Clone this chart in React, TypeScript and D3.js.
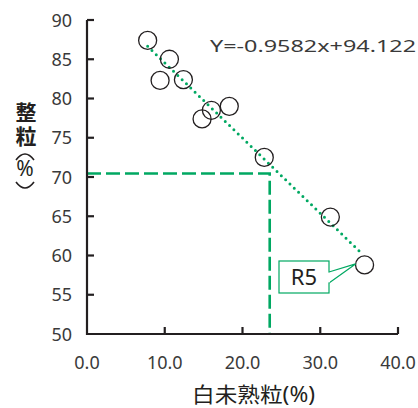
import React, { useEffect, useRef } from 'react';
import * as d3 from 'd3';

// 白未熟粒 (%) vs 整粒 (%)
const whiteImmature = [7.8, 10.6, 9.4, 12.4, 14.8, 16.0, 18.3, 22.8, 31.3, 35.7];
const wholeGrain = [87.4, 85.0, 82.3, 82.4, 77.4, 78.5, 79.0, 72.5, 64.9, 58.8];
const xTicks = [0, 10, 20, 30, 40];
const yTicks = [50, 55, 60, 65, 70, 75, 80, 85, 90];
const slope = -0.9582;
const intercept = 94.122;
const trendRange = [7.8, 35.0];
const refPoint = { x: 23.5, y: 70.45 };
const calloutIndex = 9;
const calloutLabel = 'R5';

const GREEN = '#00a862';
const INK = '#231f20';
const TEXT = '#3a3a3a';
const FONT = '"Noto Sans", "Noto Sans CJK JP", sans-serif';

const App: React.FC = () => {
  const svgRef = useRef<SVGSVGElement>(null);

  useEffect(() => {
    if (!svgRef.current) return;
    const svg = d3.select(svgRef.current);
    svg.selectAll('*').remove();

    const x = d3.scaleLinear().domain([0, 40]).range([87, 398]);
    const y = d3.scaleLinear().domain([50, 90]).range([334, 20]);

    // reference dashed lines
    svg.append('path')
      .attr('d', `M${x(0)},${y(refPoint.y)}H${x(refPoint.x)}V${y(50)}`)
      .attr('fill', 'none')
      .attr('stroke', GREEN)
      .attr('stroke-width', 2.6)
      .attr('stroke-dasharray', '14 5');

    // trend line
    svg.append('line')
      .attr('x1', x(trendRange[0])).attr('y1', y(slope * trendRange[0] + intercept))
      .attr('x2', x(trendRange[1])).attr('y2', y(slope * trendRange[1] + intercept))
      .attr('stroke', GREEN)
      .attr('stroke-width', 3)
      .attr('stroke-linecap', 'round')
      .attr('stroke-dasharray', '0 6');

    // axes
    const axis = svg.append('g').attr('stroke', INK).attr('fill', 'none');
    axis.append('path')
      .attr('d', `M${x(0)},${y(90)}V${y(50)}H${x(40)}`)
      .attr('stroke-width', 2.2);
    axis.selectAll('.yt').data(yTicks.slice(1)).enter().append('line')
      .attr('x1', x(0)).attr('x2', x(0) + 7)
      .attr('y1', d => y(d)).attr('y2', d => y(d))
      .attr('stroke-width', 2.2);
    axis.selectAll('.xt').data(xTicks.slice(1)).enter().append('line')
      .attr('x1', d => x(d)).attr('x2', d => x(d))
      .attr('y1', y(50)).attr('y2', y(50) - 7)
      .attr('stroke-width', 2.2);

    svg.selectAll('.yl').data(yTicks).enter().append('text')
      .attr('x', 72).attr('y', d => y(d) + 6.5)
      .attr('text-anchor', 'end')
      .attr('font-family', FONT).attr('font-size', 18).attr('fill', TEXT)
      .text(d => d);

    svg.selectAll('.xl').data(xTicks).enter().append('text')
      .attr('x', d => x(d)).attr('y', 369)
      .attr('text-anchor', 'middle')
      .attr('font-family', FONT).attr('font-size', 18).attr('fill', TEXT)
      .text(d => d.toFixed(1));

    // axis titles
    svg.append('text')
      .attr('x', 192).attr('y', 402)
      .attr('font-family', FONT).attr('font-size', 21).attr('fill', INK)
      .attr('textLength', 123).attr('lengthAdjust', 'spacingAndGlyphs')
      .text('白未熟粒(%)');

    const yTitle = svg.append('g')
      .attr('font-family', FONT).attr('fill', INK);
    yTitle.append('text')
      .attr('x', 25).attr('y', 102)
      .attr('writing-mode', 'vertical-rl')
      .attr('font-size', 21).attr('font-weight', 'bold')
      .attr('letter-spacing', 3)
      .text('整粒');
    yTitle.append('text').attr('x', 25).attr('y', 176)
      .attr('text-anchor', 'middle')
      .attr('font-size', 21).text('%');
    // vertical parentheses around %
    yTitle.append('path')
      .attr('d', 'M16,160Q25,148 34,160M16,182Q25,194 34,182')
      .attr('fill', 'none').attr('stroke', INK).attr('stroke-width', 1.6);

    // equation
    svg.append('text')
      .attr('x', 210).attr('y', 52)
      .attr('font-family', FONT).attr('font-size', 17).attr('fill', TEXT)
      .attr('textLength', 206).attr('lengthAdjust', 'spacingAndGlyphs')
      .text(`Y=${slope}x+${intercept}`);

    // points
    const pts = d3.zip(whiteImmature, wholeGrain);
    svg.selectAll('.pt').data(pts).enter().append('circle')
      .attr('cx', d => x(d[0])).attr('cy', d => y(d[1]))
      .attr('r', 9)
      .attr('fill', 'none')
      .attr('stroke', INK)
      .attr('stroke-width', 1.3);

    // callout
    const cp = pts[calloutIndex];
    const bx = 279, by = 261, bw = 50, bh = 32;
    const tipX = x(cp[0]) - 9, tipY = y(cp[1]) - 1;
    svg.append('path')
      .attr('d', `M${bx + bw},${by + 11}L${tipX},${tipY}L${bx + bw},${by + 22}`)
      .attr('fill', '#fff').attr('stroke', GREEN).attr('stroke-width', 1.2);
    svg.append('rect')
      .attr('x', bx).attr('y', by).attr('width', bw).attr('height', bh)
      .attr('fill', '#fff').attr('stroke', GREEN).attr('stroke-width', 1.2);
    svg.append('rect')
      .attr('x', bx + bw - 1).attr('y', by + 11.6).attr('width', 2).attr('height', 9.8)
      .attr('fill', '#fff');
    svg.append('text')
      .attr('x', bx + bw / 2).attr('y', by + 24)
      .attr('text-anchor', 'middle')
      .attr('font-family', FONT).attr('font-size', 22).attr('fill', INK)
      .text(calloutLabel);
  }, []);

  return (
    <div style={{ position: 'absolute', left: 0, top: 0, width: 418, height: 408, overflow: 'hidden', background: '#fff' }}>
      <svg ref={svgRef} width={418} height={408} style={{ display: 'block' }} />
    </div>
  );
};

export default App;
